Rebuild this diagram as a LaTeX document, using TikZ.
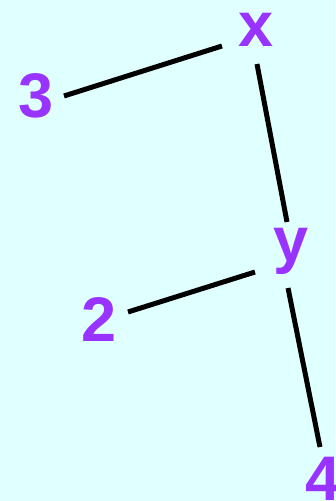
\documentclass[tikz,border=0pt]{standalone}
\usepackage{fontspec}
\setmainfont{Liberation Sans}
\usetikzlibrary{calc}
\definecolor{bgcol}{HTML}{E0FFFF}
\definecolor{labcol}{HTML}{9933FF}
\tikzset{
  lab/.style={anchor=base, inner sep=0pt, text=labcol, font=\fontsize{63}{70}\selectfont\bfseries},
  edge/.style={line width=5pt, black}
}
\begin{document}
\begin{tikzpicture}
\fill[bgcol] (0,0) rectangle (335pt,-501pt);
\useasboundingbox (0,0) rectangle (335pt,-501pt);
\node[lab] (nx) at (256.5pt,-46pt) {x};
\node[lab] (n3) at (36.5pt,-117pt) {3};
\node[lab] (ny) at (291.5pt,-261pt) {y};
\node[lab] (n2) at (99.5pt,-341pt) {2};
\node[lab] (n4) at (323pt,-500pt) {4};
\draw[edge] ($(n3.base)+(27.5pt,21pt)$) -- ($(nx.base)+(-34.5pt,0pt)$);
\draw[edge] ($(nx.base)+(0.5pt,-18pt)$) -- ($(ny.base)+(-4.5pt,39pt)$);
\draw[edge] ($(n2.base)+(28.5pt,29pt)$) -- ($(ny.base)+(-36.5pt,-11pt)$);
\draw[edge] ($(ny.base)+(-3.5pt,-27pt)$) -- ($(n4.base)+(-3pt,53pt)$);
\end{tikzpicture}
\end{document}
